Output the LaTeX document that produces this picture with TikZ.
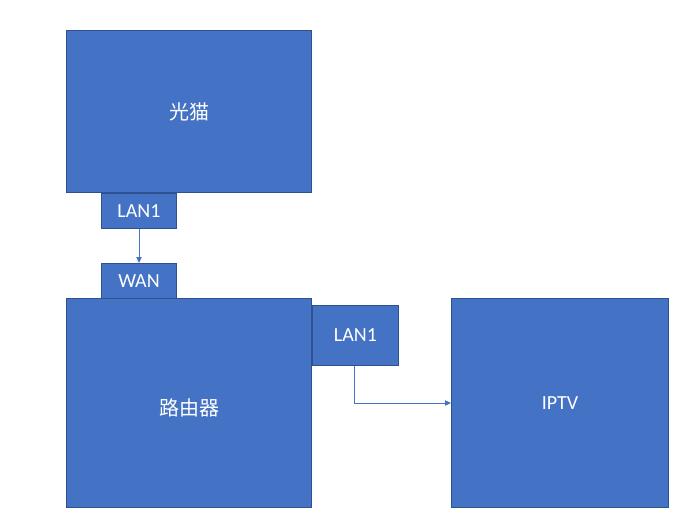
\documentclass[tikz,border=0pt]{standalone}
\usepackage{fontspec}
\setmainfont{Carlito}
\newfontfamily\cjk{Noto Sans CJK SC}
\usetikzlibrary{arrows.meta}
\definecolor{boxfill}{HTML}{4472C4}
\definecolor{boxline}{HTML}{2F528F}
\begin{document}
\begin{tikzpicture}[x=0.75pt,y=-0.75pt,
  blk/.style={draw=boxline,fill=boxfill,line width=0.75pt,text=white,font=\fontsize{15}{18}\selectfont},
  conn/.style={draw=boxfill,line width=0.75pt,-{Triangle[length=4.5pt,width=4pt]}}]
\useasboundingbox (0,0) rectangle (690,529);
\node[blk,minimum width=245*0.75pt,minimum height=162*0.75pt,anchor=north west] (modem) at (66,30) {\cjk 光猫};
\node[blk,minimum width=75*0.75pt,minimum height=35*0.75pt,anchor=north west,inner sep=0pt] (lan1a) at (101,193) {LAN1};
\node[blk,minimum width=75*0.75pt,minimum height=35*0.75pt,anchor=north west,inner sep=0pt] (wan) at (101,263) {WAN};
\node[blk,minimum width=245*0.75pt,minimum height=209*0.75pt,anchor=north west] (router) at (66,298) {\raisebox{-4pt}[\height][\depth]{\cjk 路由器}};
\node[blk,minimum width=86*0.75pt,minimum height=60*0.75pt,anchor=north west,inner sep=0pt] (lan1b) at (312,305) {LAN1};
\node[blk,minimum width=217*0.75pt,minimum height=209*0.75pt,anchor=north west] (iptv) at (451,298) {IPTV};
\coordinate (bend) at (354,403);
\draw[conn] (lan1a.south) -- (wan.north);
\draw[conn] (lan1b.south -| bend) -- (bend) -- (bend -| iptv.west);
\end{tikzpicture}
\end{document}
